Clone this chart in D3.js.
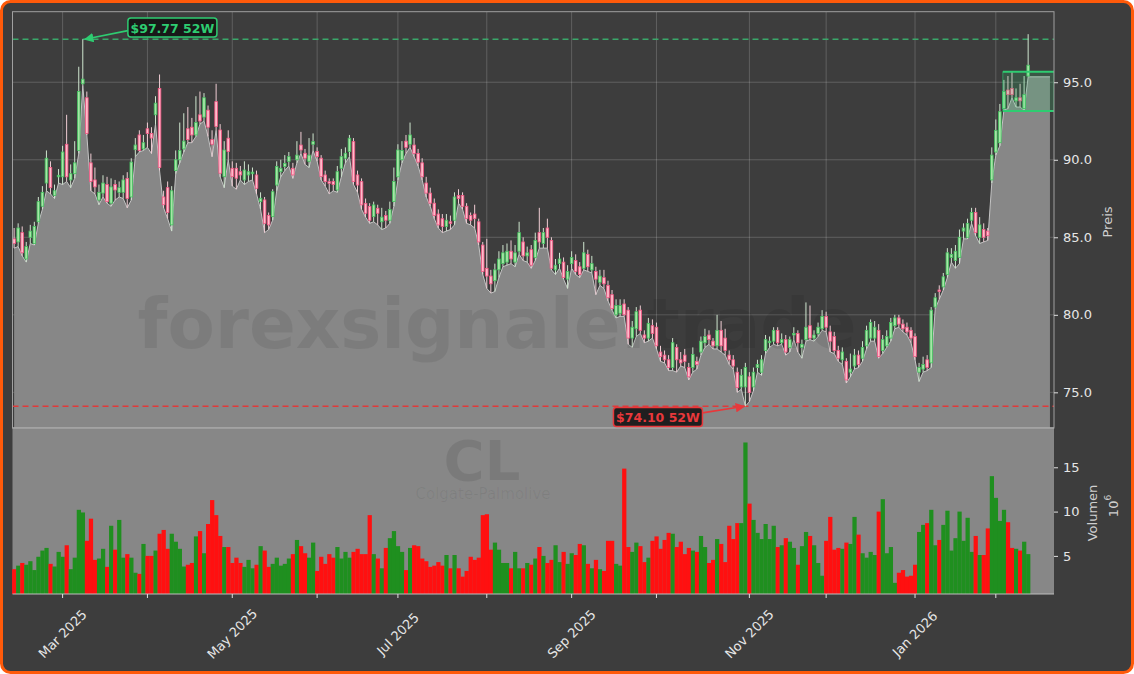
<!DOCTYPE html>
<html>
<head>
<meta charset="utf-8">
<script src="https://cdn.jsdelivr.net/npm/d3@7"></script>
<style>
  body { margin: 0; background: #fff; }
  svg text { font-family: "DejaVu Sans", sans-serif; }
</style>
</head>
<body>
<svg id="chart" width="1134" height="674"></svg>
<script>
// daily bars, 12 Feb 2025 .. 12 Feb 2026 (trading days only)
const opens = [
  84.9,84.7,85.3,83.6,85.0,84.6,86.0,87.0,88.5,89.5,
  87.7,88.9,88.9,91.0,88.7,89.1,90.6,94.9,94.0,89.8,
  88.7,87.4,87.85,88.4,87.2,88.4,87.9,87.9,88.8,87.6,
  90.65,91.6,90.7,92.0,91.7,92.9,94.6,87.6,88.2,85.8,
  89.3,90.0,90.7,92.0,92.1,91.6,92.9,92.75,93.2,91.3,
  93.75,91.92,88.91,91.39,89.45,89.45,89.23,88.7,89.02,89.1,
  89.02,87.3,87.41,86.4,86.33,88.37,89.23,89.56,89.9,89.45,
  90.0,90.95,90.42,89.9,91.0,90.53,90.1,89.02,88.59,88.6,
  88.05,89.45,90.1,90.53,91.17,89.02,88.59,87.19,86.98,86.33,
  86.87,86.0,86.4,86.1,87.3,88.9,90.0,91.2,91.0,90.95,
  90.4,89.8,88.5,87.85,87.2,86.5,86.2,85.7,86.0,86.1,
  87.7,87.7,87.0,86.4,86.5,86.0,84.5,83.0,82.5,82.2,
  82.9,83.3,83.4,84.1,83.4,84.1,84.7,83.8,84.2,83.7,
  85.3,84.6,85.6,84.8,82.9,83.3,83.4,82.3,83.3,83.5,
  83.1,83.0,83.9,82.9,82.8,82.1,82.4,81.9,81.3,80.0,
  80.1,80.7,80.3,78.5,79.1,80.3,78.7,78.5,79.3,79.2,
  77.6,77.4,77.1,76.6,77.9,77.1,77.4,76.6,76.6,77.0,
  77.6,78.2,78.7,78.3,78.0,79.0,78.5,77.4,77.1,76.3,
  75.35,75.35,76.0,75.35,76.6,76.3,77.7,78.2,78.3,79.0,
  78.2,78.4,77.9,78.7,78.8,77.9,78.4,79.3,78.5,78.8,
  79.1,79.9,78.9,78.6,77.7,77.1,77.0,76.3,76.7,77.4,
  77.2,78.0,78.5,78.5,79.0,77.7,78.0,78.5,79.3,79.8,
  79.4,79.2,79.0,78.6,76.3,76.5,77.1,76.9,80.5,81.6,
  81.8,82.6,83.7,83.5,83.7,85.4,85.0,86.1,86.6,85.0,
  85.5,85.4,88.7,90.5,91.1,93.3,94.5,94.6,93.8,94.0,93.3,95.4
];
const highs = [
  85.6,85.9,85.7,84.7,85.8,86.0,87.6,88.3,90.6,89.9,
  88.4,89.4,90.9,92.9,89.7,91.2,96.0,97.77,94.4,90.4,
  89.5,88.4,89.0,88.9,88.8,88.7,88.6,89.0,89.2,90.1,
  91.4,91.9,91.6,92.4,92.1,94.1,95.5,88.0,88.6,88.3,
  90.6,92.4,93.0,93.4,92.7,94.1,94.4,94.3,93.5,91.9,
  94.9,92.3,91.2,91.9,89.9,89.8,89.6,89.9,89.7,89.5,
  89.3,87.9,87.6,86.6,88.1,89.9,90.0,90.3,90.5,89.8,
  91.2,91.8,90.7,91.4,91.7,90.8,90.3,89.3,88.8,88.8,
  89.6,90.7,90.8,91.6,91.4,89.3,88.8,87.5,87.2,87.3,
  87.1,86.9,86.7,87.3,89.5,91.0,91.2,91.6,92.4,91.4,
  90.7,90.1,88.9,88.2,87.5,86.8,86.5,86.5,86.4,87.9,
  88.1,87.9,87.2,86.6,87.1,86.2,84.7,84.9,82.9,83.3,
  84.1,84.5,84.6,84.8,84.5,86.0,85.0,84.4,84.5,85.3,
  86.9,85.6,86.2,85.0,83.6,84.0,83.7,83.2,84.1,83.9,
  83.4,84.7,84.2,83.8,83.1,82.9,82.9,82.2,81.6,81.0,
  81.0,81.0,80.5,79.6,80.5,80.6,79.0,79.8,79.7,79.5,
  78.0,77.7,77.4,78.5,78.1,77.6,77.8,76.9,77.9,77.3,
  78.6,79.1,79.0,78.5,80.0,79.6,79.1,77.7,77.4,76.6,
  76.5,76.9,76.3,76.6,77.1,77.4,78.7,78.6,79.2,79.2,
  78.8,78.7,78.6,79.2,79.0,78.4,80.8,80.6,79.0,79.5,
  80.3,80.2,79.3,78.9,78.0,77.9,77.2,77.5,77.8,77.7,
  78.3,79.3,79.7,79.6,79.4,78.7,79.0,79.8,80.0,80.0,
  79.7,79.5,79.2,78.8,76.9,77.3,77.4,80.5,81.4,81.9,
  82.7,84.3,84.3,84.5,85.5,85.9,86.2,86.9,86.9,86.3,
  85.9,85.6,90.8,92.6,93.6,95.15,95.4,95.7,94.6,94.9,95.4,98.1
];
const lows = [
  84.3,84.4,83.8,83.4,84.6,84.5,85.9,86.8,88.0,87.8,
  87.5,88.5,88.4,88.6,88.2,88.8,90.4,94.8,91.6,88.0,
  87.8,87.1,87.6,87.2,87.0,87.4,87.6,87.5,86.9,87.4,
  90.2,90.5,90.6,90.8,90.4,92.3,89.3,86.9,86.2,85.4,
  89.1,89.8,90.5,91.1,91.1,91.5,92.3,92.5,91.5,90.2,
  91.9,88.9,88.2,90.0,88.3,88.1,88.7,88.4,88.6,88.7,
  87.8,86.8,85.3,85.5,86.1,88.0,88.9,89.3,89.6,88.8,
  89.8,90.4,89.7,89.5,90.6,89.9,88.7,88.3,87.8,88.0,
  87.9,88.9,89.8,90.2,88.4,87.9,86.8,86.3,85.9,86.0,
  85.8,85.5,85.6,85.9,87.0,88.7,89.8,90.4,90.8,90.2,
  89.6,88.7,87.6,87.0,86.2,85.6,85.3,85.4,85.5,85.8,
  87.2,86.8,85.9,85.8,85.6,84.5,82.6,81.7,81.4,81.5,
  82.4,83.1,83.2,83.3,83.1,83.9,83.5,83.4,83.0,83.5,
  84.3,84.3,84.3,82.9,82.6,83.0,82.3,81.7,83.0,82.6,
  82.4,82.9,82.8,82.7,81.3,81.9,81.7,80.9,80.3,79.8,
  79.9,79.9,78.1,77.9,78.6,78.8,78.2,78.3,78.5,77.8,
  77.0,76.9,76.4,76.4,76.3,76.7,76.6,75.8,76.3,76.5,
  77.4,77.9,78.1,77.8,77.8,77.6,77.4,76.8,76.5,75.0,
  75.2,74.1,74.4,75.1,76.3,76.1,77.5,77.9,78.1,78.0,
  78.1,77.4,77.6,78.4,77.6,77.2,78.3,78.4,78.3,78.6,
  79.0,78.9,77.6,77.5,77.0,76.8,75.6,76.0,76.5,76.6,
  77.0,77.8,78.3,78.3,77.2,77.5,77.9,78.3,79.1,79.2,
  78.9,78.7,78.2,77.1,75.7,76.3,76.4,76.6,80.4,81.0,
  81.6,82.4,83.4,83.0,83.3,84.9,84.9,85.9,85.1,84.6,
  84.7,84.8,88.5,90.3,90.9,93.2,93.3,94.0,93.4,93.4,93.2,95.35
];
const closes = [
  84.6,85.6,84.0,84.4,85.4,85.7,87.3,87.9,90.1,88.2,
  88.0,89.0,90.5,88.9,89.1,89.8,94.4,95.2,91.7,88.6,
  88.25,87.9,88.5,87.3,88.25,88.05,88.2,88.7,87.5,89.85,
  90.95,90.6,91.1,91.7,91.4,93.65,89.5,87.1,86.6,88.0,
  90.0,90.6,91.2,91.3,91.6,92.4,92.5,94.0,92.1,91.0,
  92.14,89.13,90.63,90.53,88.91,88.81,89.02,89.34,89.23,89.2,
  88.16,87.52,85.9,85.8,87.94,89.56,89.45,89.77,90.2,89.02,
  90.3,90.63,90.1,90.3,91.17,90.2,88.91,88.59,88.48,88.4,
  89.23,90.2,90.42,91.39,88.59,88.37,87.09,86.55,86.1,87.09,
  86.55,86.3,86.1,86.8,88.6,90.63,90.6,90.8,91.6,90.4,
  89.85,88.9,87.85,87.2,86.4,85.8,85.7,86.1,85.9,87.6,
  87.5,87.0,86.2,86.1,86.2,84.7,82.8,82.5,82.0,82.9,
  83.6,84.0,84.1,83.6,84.0,85.3,83.8,84.0,83.2,84.8,
  84.7,85.3,85.0,83.0,83.2,83.6,82.4,82.8,83.7,82.8,
  82.6,84.0,83.1,83.3,82.3,82.5,82.0,81.1,80.4,80.6,
  80.6,80.0,78.5,79.2,80.2,79.0,78.5,79.45,78.8,78.0,
  77.3,77.1,76.6,78.2,77.1,76.9,77.0,76.0,77.45,76.8,
  78.3,78.6,78.4,78.0,79.0,78.0,77.7,77.1,76.7,75.3,
  76.1,76.6,75.0,76.3,76.8,77.1,78.4,78.3,79.0,78.2,
  78.4,77.6,78.4,78.8,78.2,78.1,79.2,78.5,78.7,79.2,
  79.9,79.2,78.3,77.7,77.2,77.6,75.8,76.5,77.4,76.8,
  77.9,79.0,79.5,79.2,77.3,78.4,78.6,79.5,79.8,79.4,
  79.1,78.9,78.5,77.3,76.6,76.8,76.6,80.3,81.1,81.5,
  82.45,84.0,83.9,84.1,85.0,85.6,85.9,86.6,85.3,85.8,
  85.0,85.1,90.3,91.9,93.1,94.4,94.2,94.2,94.0,93.8,94.2,96.1
];
// volume in millions
const volumes = [
  3.5,3.9,4.2,4.0,4.4,3.4,4.9,5.6,5.9,4.1,
  3.8,5.45,4.9,6.2,3.5,4.8,10.2,9.9,6.7,9.2,
  4.55,4.7,5.8,3.76,8.4,5.7,9.06,4.8,5.2,4.8,
  3.1,2.97,6.35,5.0,5.0,5.6,7.5,7.93,5.8,7.5,
  6.6,5.8,3.8,4.0,4.2,7.2,7.8,5.3,8.6,11.3,
  9.6,7.25,6.0,6.0,4.2,4.8,4.2,3.76,4.55,3.6,
  4.0,6.1,5.6,3.76,4.1,4.8,3.9,4.1,4.7,5.2,
  6.8,6.1,5.3,4.8,6.5,3.3,4.9,4.1,5.2,4.8,
  6.0,4.7,5.45,4.8,5.45,5.8,5.2,5.2,9.6,5.2,
  4.7,3.6,5.9,7.0,7.8,6.1,5.45,3.4,5.9,6.2,
  6.1,4.7,4.4,3.76,3.9,4.3,3.9,5.1,3.6,5.1,
  3.6,2.66,3.3,4.9,4.55,4.8,9.6,9.7,5.7,6.5,
  5.7,4.2,4.2,3.6,5.45,3.6,3.6,4.2,4.0,4.7,
  6.0,5.0,4.2,4.55,6.2,4.3,5.45,4.1,5.3,5.1,
  6.35,6.2,4.1,3.6,4.55,3.5,3.3,6.7,6.7,4.1,
  3.9,14.85,6.0,5.45,6.5,6.1,4.3,4.8,6.7,7.2,
  5.8,6.8,7.6,7.5,6.0,6.6,5.2,5.9,5.6,5.45,
  7.25,6.0,4.2,4.55,6.9,6.35,4.3,8.4,6.9,8.7,
  8.7,17.8,10.9,9.06,7.6,6.9,8.6,6.9,8.4,6.0,
  6.2,7.0,6.6,5.9,4.0,6.1,7.7,7.25,6.2,4.2,
  2.76,6.7,9.4,5.7,5.9,5.8,6.5,6.35,9.4,7.4,
  5.3,4.8,5.45,5.1,10.0,11.4,5.3,6.0,1.96,3.1,
  3.4,2.66,2.76,4.0,7.7,8.5,8.7,10.2,6.2,6.8,
  8.5,10.1,5.6,7.0,10.0,6.7,9.3,5.45,7.25,5.1,
  5.1,8.1,14.0,11.55,8.95,10.2,8.8,5.9,5.8,5.6,6.6,5.2
];
// first trading day of each month (bar index) and its label
const tickIndex = [12, 33, 54, 75, 95, 117, 138, 159, 182, 201, 223, 243];
const tickLabels = ["Mar 2025", "", "May 2025", "", "Jul 2025", "", "Sep 2025", "", "Nov 2025", "", "Jan 2026", ""];
const priceTicks = [75, 80, 85, 90, 95];
const volumeTicks = [5, 10, 15];
const high52 = 97.77;
const low52 = 74.10;
const zoneRange = [93.15, 95.68];
const zoneStart = 244.75;
const fillEnd = 256.4;

const W = 1134, H = 674;
const left = 12.5, right = 1054;
const pTop = 11.7, pBottom = 428, vTop = 428.3, vBottom = 594;

const svg = d3.select("#chart");

const x = d3.scaleLinear().domain([-0.4, 257.4]).range([left, right]);
const step = x(1) - x(0);
const yP = d3.scaleLinear().domain([72.7, 99.55]).range([pBottom, pTop]);
const yV = d3.scaleLinear().domain([0.7, 19.4]).range([vBottom, vTop]);

const bars = closes.map((c, i) => ({
  i: i, o: opens[i], h: highs[i], l: lows[i], c: c, v: volumes[i], up: c >= opens[i]
}));

// background + orange frame
svg.append("rect")
  .attr("x", 1.5).attr("y", 1.5).attr("width", W - 3).attr("height", H - 3)
  .attr("rx", 9)
  .attr("fill", "#3d3d3d")
  .attr("stroke", "#ff5a0a").attr("stroke-width", 3);

svg.append("clipPath").attr("id", "pclip")
  .append("rect").attr("x", left).attr("y", pTop).attr("width", right - left).attr("height", pBottom - pTop);

const price = svg.append("g").attr("clip-path", "url(#pclip)");

// grid
price.selectAll("line.vg").data(tickIndex).enter().append("line")
  .attr("x1", d => x(d)).attr("x2", d => x(d))
  .attr("y1", pTop).attr("y2", pBottom)
  .attr("stroke", "#ffffff").attr("stroke-opacity", 0.18).attr("stroke-width", 1);
price.selectAll("line.hg").data(priceTicks).enter().append("line")
  .attr("x1", left).attr("x2", right)
  .attr("y1", d => yP(d)).attr("y2", d => yP(d))
  .attr("stroke", "#ffffff").attr("stroke-opacity", 0.18).attr("stroke-width", 1);

// grey area under the lows
const areaPts = bars.map(b => [b.i, b.l]);
areaPts.push([fillEnd, lows[lows.length - 1]]);
price.append("path")
  .datum(areaPts)
  .attr("d", d3.area().x(d => x(d[0])).y0(pBottom).y1(d => yP(d[1])))
  .attr("fill", "#878787");
price.append("path")
  .datum(areaPts)
  .attr("d", d3.line().x(d => x(d[0])).y(d => yP(d[1])))
  .attr("fill", "none").attr("stroke", "#c4c4c4").attr("stroke-width", 1);

// watermark
price.append("text")
  .attr("x", 497).attr("y", 348)
  .attr("text-anchor", "middle")
  .attr("font-size", 69).attr("font-weight", "bold")
  .attr("fill", "#000").attr("fill-opacity", 0.08)
  .text("forexsignale.trade");

// 52 week lines
price.append("line")
  .attr("x1", left).attr("x2", right)
  .attr("y1", yP(high52)).attr("y2", yP(high52))
  .attr("stroke", "#3aa86a").attr("stroke-width", 1.6).attr("stroke-dasharray", "6,4");
price.append("line")
  .attr("x1", left).attr("x2", right)
  .attr("y1", yP(low52)).attr("y2", yP(low52))
  .attr("stroke", "#e03a3a").attr("stroke-width", 1.6).attr("stroke-dasharray", "6,4");

// candles
const bw = 2.6;
price.selectAll("line.wick").data(bars).enter().append("line")
  .attr("x1", d => x(d.i)).attr("x2", d => x(d.i))
  .attr("y1", d => yP(d.h)).attr("y2", d => yP(d.l))
  .attr("stroke", d => d.up ? "#cfe6cf" : "#f0cdd4")
  .attr("stroke-width", 1);
price.selectAll("rect.body").data(bars).enter().append("rect")
  .attr("x", d => x(d.i) - bw / 2)
  .attr("y", d => yP(Math.max(d.o, d.c)))
  .attr("width", bw)
  .attr("height", d => Math.max(0.8, Math.abs(yP(d.o) - yP(d.c))))
  .attr("fill", d => d.up ? "#a6e6a6" : "#ffbccb")
  .attr("stroke", d => d.up ? "#43bf5e" : "#f25582")
  .attr("stroke-width", 0.8);

// consolidation zone
price.append("rect")
  .attr("x", x(zoneStart)).attr("y", yP(zoneRange[1]))
  .attr("width", right - x(zoneStart)).attr("height", yP(zoneRange[0]) - yP(zoneRange[1]))
  .attr("fill", "#2ecc71").attr("fill-opacity", 0.18)
  .attr("stroke", "#2ecc71").attr("stroke-width", 0.6);
zoneRange.forEach(v => {
  price.append("line")
    .attr("x1", x(zoneStart)).attr("x2", right)
    .attr("y1", yP(v)).attr("y2", yP(v))
    .attr("stroke", "#2ecc71").attr("stroke-width", 2);
});

// price spines
svg.append("rect")
  .attr("x", left).attr("y", pTop).attr("width", right - left).attr("height", pBottom - pTop)
  .attr("fill", "none").attr("stroke", "#a0a0a0").attr("stroke-width", 1);

// volume panel
svg.append("rect")
  .attr("x", left).attr("y", vTop).attr("width", right - left).attr("height", vBottom - vTop)
  .attr("fill", "#878787");
svg.append("text")
  .attr("x", 482).attr("y", 480).attr("text-anchor", "middle")
  .attr("font-size", 56).attr("font-weight", "bold")
  .attr("fill", "#000").attr("fill-opacity", 0.09)
  .text("CL");
svg.append("text")
  .attr("x", 483).attr("y", 499).attr("text-anchor", "middle")
  .attr("font-size", 15)
  .attr("fill", "#000").attr("fill-opacity", 0.06)
  .text("Colgate-Palmolive");

svg.selectAll("rect.vol").data(bars).enter().append("rect")
  .attr("x", d => x(d.i) - step / 2)
  .attr("y", d => yV(d.v))
  .attr("width", step + 0.2)
  .attr("height", d => vBottom - yV(d.v))
  .attr("fill", d => d.up ? "#1f8f1f" : "#ff1010");

svg.append("line")
  .attr("x1", left).attr("x2", right).attr("y1", pBottom).attr("y2", pBottom)
  .attr("stroke", "#a8a8a8").attr("stroke-width", 1.5);
svg.append("line")
  .attr("x1", left).attr("x2", right).attr("y1", vBottom).attr("y2", vBottom)
  .attr("stroke", "#bdbdbd").attr("stroke-width", 1.2);

// right axes
const rightAxisP = svg.append("g")
  .attr("transform", `translate(${right},0)`)
  .call(d3.axisRight(yP).tickValues(priceTicks).tickFormat(d3.format(".1f")).tickSize(4).tickPadding(5));
const rightAxisV = svg.append("g")
  .attr("transform", `translate(${right},0)`)
  .call(d3.axisRight(yV).tickValues(volumeTicks).tickFormat(d3.format("d")).tickSize(4).tickPadding(5));
[rightAxisP, rightAxisV].forEach(g => {
  g.select(".domain").remove();
  g.selectAll(".tick line").attr("stroke", "#e0e0e0");
  g.selectAll(".tick text").attr("fill", "#e6e6e6").attr("font-size", 13)
    .style("font-family", "DejaVu Sans");
});

svg.append("text")
  .attr("transform", "translate(1107,222) rotate(-90)")
  .attr("text-anchor", "middle").attr("dominant-baseline", "central")
  .attr("font-size", 13).attr("fill", "#cfcfcf")
  .text("Preis");
svg.append("text")
  .attr("transform", "translate(1092.5,513) rotate(-90)")
  .attr("text-anchor", "middle").attr("dominant-baseline", "central")
  .attr("font-size", 13).attr("fill", "#cfcfcf")
  .text("Volumen");
const exp = svg.append("text")
  .attr("transform", "translate(1113,506) rotate(-90)")
  .attr("text-anchor", "middle").attr("dominant-baseline", "central")
  .attr("font-size", 13).attr("fill", "#cfcfcf");
exp.append("tspan").text("10");
exp.append("tspan").attr("font-size", 9).attr("dy", -5).text("6");

// date axis
const dateAxis = svg.append("g");
tickIndex.forEach((t, k) => {
  dateAxis.append("line")
    .attr("x1", x(t)).attr("x2", x(t)).attr("y1", vBottom).attr("y2", vBottom + 4)
    .attr("stroke", "#e0e0e0");
  if (tickLabels[k]) {
    dateAxis.append("text")
      .attr("transform", `translate(${x(t)},634) rotate(-45)`)
      .attr("text-anchor", "middle").attr("dominant-baseline", "central")
      .attr("font-size", 13).attr("fill", "#e6e6e6")
      .text(tickLabels[k]);
  }
});

// annotations
svg.append("defs").html(
  '<marker id="ah-g" viewBox="0 0 10 10" refX="9" refY="5" markerWidth="6" markerHeight="6" orient="auto-start-reverse"><path d="M0,0L10,5L0,10z" fill="#2ecc71"/></marker>' +
  '<marker id="ah-r" viewBox="0 0 10 10" refX="9" refY="5" markerWidth="6" markerHeight="6" orient="auto-start-reverse"><path d="M0,0L10,5L0,10z" fill="#e8383b"/></marker>'
);

function annotate(idx, value, dx, dy, color, marker, label) {
  const px = x(idx), py = yP(value);
  const cx = px + dx, cy = py + dy;
  const bwid = 89, bh = 19;
  const sx = dx > 0 ? cx - bwid / 2 : cx + bwid / 2;
  svg.append("line")
    .attr("x1", sx).attr("y1", cy + (dy < 0 ? 3 : -4))
    .attr("x2", px + (dx > 0 ? 2 : -1)).attr("y2", py)
    .attr("stroke", color).attr("stroke-width", 1.6)
    .attr("marker-end", `url(#${marker})`);
  svg.append("rect")
    .attr("x", cx - bwid / 2).attr("y", cy - bh / 2)
    .attr("width", bwid).attr("height", bh).attr("rx", 3)
    .attr("fill", "#141414").attr("fill-opacity", 0.9)
    .attr("stroke", color).attr("stroke-width", 1.5);
  svg.append("text")
    .attr("x", cx).attr("y", cy + 0.5)
    .attr("text-anchor", "middle").attr("dominant-baseline", "central")
    .attr("font-size", 12.5).attr("font-weight", "bold")
    .attr("fill", color)
    .text(label);
}

annotate(highs.indexOf(high52), high52, 89.6, -11.7, "#2ecc71", "ah-g", `$${high52.toFixed(2)} 52W`);
annotate(lows.indexOf(low52), low52, -87.4, 10.6, "#e8383b", "ah-r", `$${low52.toFixed(2)} 52W`);
</script>
</body>
</html>
